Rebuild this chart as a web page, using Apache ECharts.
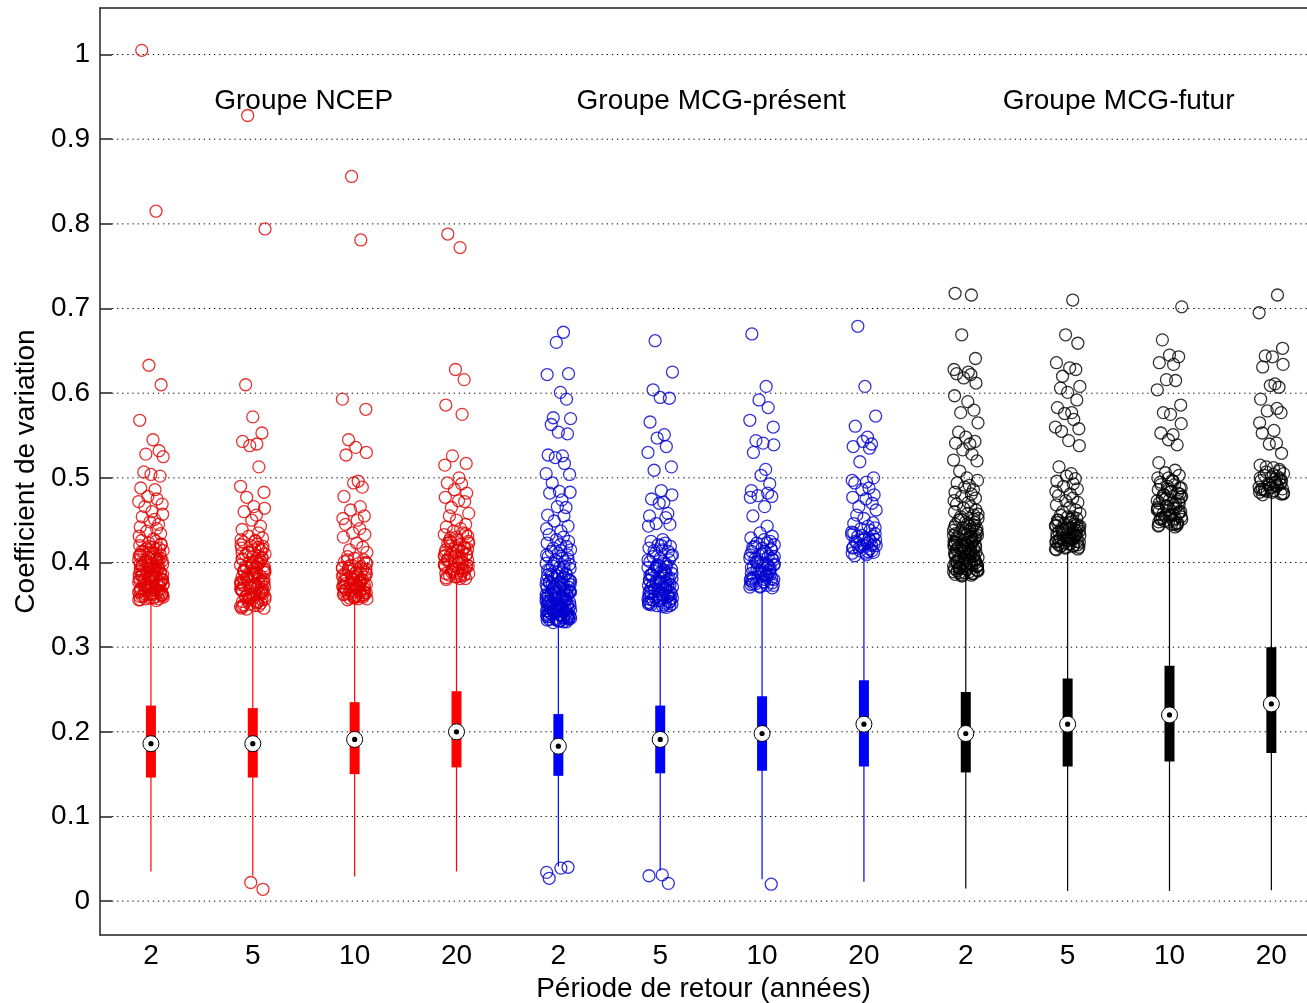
<!DOCTYPE html>
<html>
<head>
<meta charset="utf-8">
<script src="https://cdn.jsdelivr.net/npm/echarts@6/dist/echarts.min.js"></script>
<style>
  html, body { margin: 0; padding: 0; background: #fff; }
  #chart { width: 1307px; height: 1003px; }
</style>
</head>
<body>
<div id="chart"></div>
<script>
// return periods (x tick labels) and groups
const periods = ["2", "5", "10", "20"];
const groups = ["Groupe NCEP", "Groupe MCG-présent", "Groupe MCG-futur"];
const yTicks = [0, 0.1, 0.2, 0.3, 0.4, 0.5, 0.6, 0.7, 0.8, 0.9, 1];

// box statistics, one entry per box (NCEP 2..20, MCG-présent 2..20, MCG-futur 2..20)
const whiskerLow = [0.035, 0.030, 0.029, 0.035, 0.041, 0.036, 0.026, 0.023, 0.015, 0.012, 0.012, 0.013];
const q1 = [0.146, 0.146, 0.150, 0.158, 0.148, 0.151, 0.154, 0.159, 0.152, 0.159, 0.165, 0.175];
const medians = [0.186, 0.186, 0.191, 0.200, 0.183, 0.191, 0.198, 0.209, 0.198, 0.209, 0.220, 0.233];
const q3 = [0.231, 0.228, 0.235, 0.248, 0.221, 0.231, 0.242, 0.261, 0.247, 0.263, 0.278, 0.300];
const whiskerHigh = [0.352, 0.344, 0.356, 0.380, 0.328, 0.347, 0.370, 0.407, 0.384, 0.413, 0.441, 0.480];

// outliers per box
const outNcep2 = [1.005, 0.815, 0.633, 0.61, 0.568, 0.545, 0.532, 0.528, 0.525, 0.507, 0.504, 0.502, 0.488, 0.486, 0.478, 0.475, 0.472, 0.469, 0.466, 0.46, 0.457, 0.454, 0.451, 0.448, 0.445, 0.442, 0.44, 0.437, 0.434, 0.431,
  0.428, 0.426, 0.425, 0.423, 0.421, 0.42, 0.418, 0.417, 0.416, 0.414, 0.413, 0.412, 0.41, 0.409, 0.407, 0.406, 0.405, 0.403, 0.402, 0.401, 0.399, 0.398, 0.397, 0.395, 0.394, 0.393, 0.392, 0.39, 0.389, 0.388, 0.386, 0.385, 0.384, 0.383, 0.381, 0.38, 0.379, 0.378, 0.376, 0.375, 0.374, 0.373, 0.372, 0.37, 0.369, 0.368, 0.367, 0.366, 0.365, 0.364, 0.363, 0.362, 0.361, 0.36, 0.359, 0.358, 0.357, 0.356, 0.355, 0.371, 0.377, 0.382, 0.387, 0.396, 0.404, 0.411, 0.362, 0.366, 0.358, 0.373,
  0.357, 0.359, 0.361, 0.363, 0.365, 0.368, 0.37, 0.372, 0.375, 0.377, 0.379, 0.381, 0.384, 0.386, 0.388, 0.391, 0.393, 0.395, 0.398, 0.4, 0.402, 0.405, 0.408, 0.41, 0.413, 0.416, 0.419, 0.422, 0.36, 0.364, 0.367, 0.371, 0.374, 0.378, 0.383, 0.387, 0.39, 0.394, 0.397, 0.401, 0.356, 0.362, 0.369, 0.376, 0.38, 0.385, 0.389, 0.396, 0.403, 0.409];
const outNcep5 = [0.928, 0.794, 0.61, 0.572, 0.553, 0.543, 0.54, 0.538, 0.513, 0.49, 0.483, 0.477, 0.466, 0.464, 0.46, 0.456, 0.45, 0.443, 0.439, 0.435,
  0.431, 0.429, 0.427, 0.426, 0.424, 0.422, 0.42, 0.419, 0.417, 0.415, 0.414, 0.412, 0.41, 0.409, 0.407, 0.405, 0.404, 0.402, 0.4, 0.399, 0.397, 0.396, 0.394, 0.392, 0.391, 0.389, 0.388, 0.386, 0.384, 0.383, 0.381, 0.38, 0.378, 0.376, 0.375, 0.373, 0.372, 0.37, 0.368, 0.367, 0.365, 0.364, 0.362, 0.36, 0.359, 0.357, 0.356, 0.354, 0.352, 0.351, 0.349, 0.348, 0.346, 0.345, 0.363, 0.371, 0.379, 0.387, 0.395, 0.403, 0.411, 0.418, 0.358, 0.366, 0.374, 0.382, 0.39, 0.398, 0.022, 0.014,
  0.346, 0.349, 0.352, 0.355, 0.357, 0.36, 0.362, 0.365, 0.367, 0.37, 0.372, 0.375, 0.377, 0.38, 0.383, 0.385, 0.388, 0.391, 0.394, 0.397, 0.401, 0.404, 0.408, 0.412, 0.416, 0.421, 0.425, 0.35, 0.354, 0.359, 0.363, 0.368, 0.373, 0.378, 0.384, 0.389, 0.395, 0.4, 0.406, 0.348, 0.353, 0.358, 0.364, 0.369, 0.376, 0.381, 0.386, 0.393];
const outNcep10 = [0.856, 0.781, 0.593, 0.581, 0.545, 0.536, 0.53, 0.527, 0.496, 0.494, 0.489, 0.478, 0.466, 0.462, 0.455, 0.452, 0.45, 0.445, 0.44, 0.435, 0.433, 0.43, 0.423, 0.418, 0.415, 0.412,
  0.407, 0.405, 0.403, 0.401, 0.399, 0.397, 0.395, 0.393, 0.392, 0.39, 0.388, 0.386, 0.385, 0.383, 0.381, 0.38, 0.378, 0.376, 0.375, 0.373, 0.372, 0.37, 0.368, 0.367, 0.365, 0.364, 0.362, 0.361, 0.359, 0.358, 0.357, 0.356, 0.36, 0.366, 0.371, 0.377, 0.382, 0.387, 0.394, 0.4, 0.363, 0.369, 0.374, 0.379,
  0.357, 0.359, 0.361, 0.363, 0.365, 0.367, 0.369, 0.371, 0.373, 0.375, 0.378, 0.38, 0.383, 0.386, 0.389, 0.392, 0.396, 0.399, 0.403, 0.358, 0.362, 0.366, 0.37, 0.374, 0.379, 0.384, 0.388, 0.393, 0.36, 0.364, 0.368, 0.372, 0.376];
const outNcep20 = [0.788, 0.772, 0.628, 0.616, 0.586, 0.575, 0.526, 0.517, 0.515, 0.5, 0.494, 0.493, 0.486, 0.482, 0.477, 0.473, 0.472, 0.465, 0.458, 0.455, 0.45, 0.445, 0.442, 0.44, 0.437,
  0.435, 0.433, 0.431, 0.429, 0.427, 0.425, 0.423, 0.421, 0.419, 0.417, 0.415, 0.413, 0.411, 0.409, 0.407, 0.405, 0.403, 0.401, 0.399, 0.397, 0.395, 0.393, 0.391, 0.389, 0.387, 0.385, 0.383, 0.381, 0.38, 0.384, 0.392, 0.4, 0.408, 0.416, 0.424, 0.388, 0.396, 0.404,
  0.381, 0.383, 0.385, 0.387, 0.39, 0.392, 0.394, 0.397, 0.399, 0.402, 0.405, 0.407, 0.41, 0.412, 0.415, 0.418, 0.42, 0.423, 0.426, 0.43, 0.434, 0.382, 0.386, 0.389, 0.393, 0.398, 0.403, 0.409, 0.414];
const outPres2 = [0.040, 0.034, 0.039, 0.027,
  0.672, 0.66, 0.623, 0.622, 0.601, 0.593, 0.571, 0.57, 0.563, 0.554, 0.552, 0.527, 0.526, 0.524, 0.517, 0.505, 0.504, 0.494, 0.484, 0.483, 0.482, 0.474, 0.466, 0.465, 0.456, 0.455, 0.449, 0.443, 0.44, 0.437, 0.433, 0.43, 0.427, 0.425,
  0.423, 0.421, 0.419, 0.417, 0.415, 0.413, 0.411, 0.409, 0.407, 0.405, 0.403, 0.401, 0.399, 0.398, 0.396, 0.394, 0.393, 0.391, 0.389, 0.388, 0.386, 0.385, 0.383, 0.382, 0.38, 0.379, 0.377, 0.376, 0.374, 0.373, 0.371, 0.37, 0.369, 0.367, 0.366, 0.365, 0.363, 0.362, 0.361, 0.359, 0.358, 0.357, 0.355, 0.354, 0.353, 0.352, 0.35, 0.349, 0.348, 0.347, 0.345, 0.344, 0.343, 0.342, 0.341, 0.339, 0.338, 0.337, 0.336, 0.335, 0.334, 0.333, 0.332, 0.331, 0.33, 0.329, 0.334, 0.339, 0.344, 0.349, 0.354, 0.359, 0.364, 0.369, 0.374, 0.379, 0.384, 0.331, 0.336, 0.341, 0.346, 0.351, 0.356, 0.361, 0.366, 0.371, 0.337, 0.343, 0.348, 0.353,
  0.33, 0.332, 0.334, 0.336, 0.338, 0.34, 0.342, 0.344, 0.346, 0.348, 0.35, 0.352, 0.355, 0.357, 0.36, 0.362, 0.365, 0.368, 0.371, 0.374, 0.377, 0.38, 0.384, 0.387, 0.391, 0.395, 0.399, 0.404, 0.409, 0.414, 0.333, 0.337, 0.341, 0.345, 0.35, 0.356, 0.363, 0.37, 0.378, 0.386, 0.331, 0.335, 0.339, 0.343, 0.347, 0.353, 0.358, 0.366, 0.375];
const outPres5 = [0.030, 0.031, 0.021,
  0.662, 0.625, 0.604, 0.595, 0.594, 0.566, 0.551, 0.547, 0.537, 0.53, 0.513, 0.509, 0.485, 0.48, 0.475, 0.471, 0.47, 0.458, 0.455, 0.453, 0.446, 0.445, 0.443,
  0.427, 0.425, 0.423, 0.421, 0.419, 0.417, 0.415, 0.413, 0.411, 0.409, 0.407, 0.405, 0.403, 0.401, 0.399, 0.397, 0.395, 0.394, 0.392, 0.39, 0.389, 0.387, 0.385, 0.384, 0.382, 0.38, 0.379, 0.377, 0.376, 0.374, 0.373, 0.371, 0.37, 0.368, 0.367, 0.365, 0.364, 0.362, 0.361, 0.359, 0.358, 0.356, 0.355, 0.353, 0.352, 0.35, 0.349, 0.347, 0.357, 0.363, 0.369, 0.375, 0.381, 0.386, 0.391, 0.396, 0.36, 0.366, 0.372, 0.378, 0.354, 0.351,
  0.348, 0.35, 0.352, 0.355, 0.357, 0.36, 0.362, 0.365, 0.368, 0.371, 0.374, 0.377, 0.381, 0.385, 0.389, 0.393, 0.398, 0.403, 0.408, 0.414, 0.42, 0.351, 0.356, 0.361, 0.366, 0.372, 0.379, 0.387, 0.395, 0.349, 0.353, 0.358, 0.364, 0.37];
const outPres10 = [0.020,
  0.67, 0.608, 0.592, 0.583, 0.568, 0.56, 0.544, 0.541, 0.539, 0.53, 0.51, 0.503, 0.493, 0.485, 0.482, 0.479, 0.478, 0.477, 0.466, 0.455, 0.443, 0.435,
  0.431, 0.429, 0.427, 0.425, 0.423, 0.421, 0.419, 0.417, 0.415, 0.413, 0.411, 0.409, 0.407, 0.405, 0.403, 0.401, 0.399, 0.397, 0.395, 0.393, 0.391, 0.389, 0.387, 0.385, 0.383, 0.381, 0.379, 0.377, 0.375, 0.373, 0.371, 0.37, 0.374, 0.38, 0.386, 0.392, 0.398, 0.404, 0.41, 0.416, 0.378, 0.384, 0.39, 0.396,
  0.371, 0.373, 0.375, 0.377, 0.38, 0.382, 0.385, 0.388, 0.391, 0.394, 0.397, 0.401, 0.405, 0.409, 0.413, 0.418, 0.423, 0.372, 0.376, 0.381, 0.387, 0.393, 0.4, 0.407];
const outPres20 = [0.679, 0.608, 0.573, 0.561, 0.548, 0.543, 0.54, 0.537, 0.535, 0.519, 0.5, 0.497, 0.495, 0.494, 0.488, 0.486, 0.48, 0.477, 0.475, 0.47, 0.466, 0.462, 0.456, 0.452, 0.447, 0.446, 0.443, 0.44, 0.438, 0.436, 0.434, 0.431, 0.429, 0.427, 0.425, 0.423, 0.421, 0.42, 0.418, 0.416, 0.414, 0.412, 0.411, 0.409, 0.408, 0.428, 0.432, 0.422, 0.417,
  0.411, 0.414, 0.417, 0.42, 0.424, 0.427, 0.431, 0.435, 0.413, 0.419, 0.426, 0.433, 0.441];
const outFut2 = [0.718, 0.716, 0.669, 0.641, 0.628, 0.625, 0.623, 0.622, 0.618, 0.612, 0.597, 0.59, 0.58, 0.577, 0.565, 0.554, 0.548, 0.543, 0.541, 0.54, 0.533, 0.528, 0.521, 0.52, 0.508,
  0.5, 0.497, 0.494, 0.491, 0.489, 0.486, 0.483, 0.481, 0.478, 0.476, 0.473, 0.471, 0.469, 0.466, 0.464, 0.462, 0.46, 0.458, 0.456, 0.454, 0.452, 0.45, 0.448, 0.447, 0.445, 0.443, 0.441, 0.44, 0.438, 0.436, 0.435, 0.433, 0.432, 0.43, 0.429, 0.427, 0.426, 0.424, 0.423, 0.421, 0.42, 0.419, 0.417, 0.416, 0.415, 0.413, 0.412, 0.411, 0.409, 0.408, 0.407, 0.406, 0.404, 0.403, 0.402, 0.401, 0.399, 0.398, 0.397, 0.396, 0.395, 0.394, 0.392, 0.391, 0.39, 0.389, 0.388, 0.387, 0.386, 0.385, 0.384, 0.43, 0.425, 0.42, 0.414, 0.41, 0.405, 0.4, 0.393, 0.437, 0.444, 0.451, 0.457, 0.418, 0.422, 0.428, 0.434, 0.439,
  0.385, 0.387, 0.389, 0.391, 0.393, 0.395, 0.397, 0.4, 0.402, 0.404, 0.407, 0.409, 0.412, 0.415, 0.418, 0.421, 0.424, 0.427, 0.431, 0.434, 0.438, 0.442, 0.446, 0.451, 0.386, 0.39, 0.394, 0.398, 0.403, 0.408, 0.413, 0.419, 0.425, 0.432, 0.44, 0.388, 0.392, 0.396, 0.401, 0.406, 0.411, 0.417, 0.423, 0.429];
const outFut5 = [0.71, 0.669, 0.659, 0.636, 0.63, 0.628, 0.62, 0.608, 0.606, 0.601, 0.592, 0.583, 0.577, 0.576, 0.569, 0.56, 0.558, 0.555, 0.544, 0.538, 0.513,
  0.505, 0.502, 0.499, 0.496, 0.493, 0.49, 0.487, 0.484, 0.481, 0.479, 0.476, 0.473, 0.471, 0.468, 0.465, 0.462, 0.46, 0.458, 0.456, 0.454, 0.452, 0.45, 0.448, 0.446, 0.445, 0.443, 0.442, 0.44, 0.439, 0.437, 0.436, 0.434, 0.433, 0.431, 0.43, 0.428, 0.427, 0.425, 0.424, 0.422, 0.421, 0.419, 0.418, 0.416, 0.415, 0.441, 0.438, 0.435, 0.432, 0.429, 0.426, 0.444, 0.447, 0.451, 0.423, 0.42,
  0.416, 0.418, 0.42, 0.422, 0.424, 0.426, 0.428, 0.43, 0.432, 0.434, 0.436, 0.439, 0.441, 0.444, 0.447, 0.45, 0.454, 0.417, 0.421, 0.425, 0.429, 0.433, 0.438, 0.443, 0.419, 0.427, 0.435];
const outFut10 = [0.702, 0.663, 0.645, 0.643, 0.636, 0.634, 0.616, 0.615, 0.604, 0.586, 0.577, 0.575, 0.564, 0.553, 0.551, 0.545, 0.539, 0.518,
  0.509, 0.506, 0.503, 0.5, 0.497, 0.495, 0.492, 0.49, 0.488, 0.486, 0.484, 0.482, 0.48, 0.478, 0.476, 0.474, 0.472, 0.47, 0.468, 0.466, 0.464, 0.462, 0.46, 0.458, 0.456, 0.454, 0.452, 0.45, 0.448, 0.446, 0.444, 0.442, 0.475, 0.469, 0.463, 0.457, 0.451, 0.445, 0.487, 0.481,
  0.443, 0.445, 0.447, 0.449, 0.451, 0.453, 0.455, 0.458, 0.461, 0.464, 0.467, 0.47, 0.473, 0.477, 0.48, 0.484, 0.488, 0.492, 0.496, 0.5, 0.444, 0.448, 0.452, 0.456, 0.46, 0.465];
const outFut20 = [0.716, 0.695, 0.653, 0.644, 0.643, 0.634, 0.631, 0.611, 0.609, 0.607, 0.593, 0.582, 0.579, 0.577, 0.565, 0.556, 0.553, 0.541, 0.54, 0.529,
  0.515, 0.512, 0.51, 0.507, 0.505, 0.503, 0.501, 0.499, 0.497, 0.495, 0.493, 0.491, 0.489, 0.487, 0.485, 0.483, 0.481, 0.48, 0.494, 0.488, 0.498, 0.486, 0.502, 0.484,
  0.481, 0.483, 0.485, 0.487, 0.49, 0.492, 0.496, 0.5, 0.504, 0.508, 0.513, 0.482, 0.486, 0.489, 0.493];

const outliers = [outNcep2, outNcep5, outNcep10, outNcep20, outPres2, outPres5, outPres10, outPres20, outFut2, outFut5, outFut10, outFut20];

// styling
const groupColors = ["#ff0000", "#0000ff", "#000000"];
const markerColors = ["#e00000", "#0000d0", "#000000"];
const jitter = [-0.09, 0.05, -0.02, 0.1, -0.11, 0.02, 0.08, -0.05, 0.12, -0.07, 0.0, 0.09, -0.1, 0.04, -0.03, 0.06, -0.12, 0.11, -0.06, 0.01, 0.115, -0.085, 0.035, -0.01, 0.075, -0.105, 0.055, -0.04, 0.095, -0.115, 0.025];
const X_MIN = 0.5, X_MAX = 12.35;
const FONT = "'Liberation Sans', Arial, sans-serif";
const FS = 28;

const chart = echarts.init(document.getElementById("chart"));

const boxData = medians.map((m, i) => [i + 1, whiskerLow[i], q1[i], m, q3[i], whiskerHigh[i]]);

const scatterSeries = groups.map((g, gi) => {
  const pts = [];
  for (let k = 0; k < 4; k++) {
    const ci = gi * 4 + k;
    outliers[ci].forEach((v, j) => {
      pts.push([ci + 1 + jitter[(j + ci * 7) % jitter.length], v]);
    });
  }
  return {
    name: g,
    type: "scatter",
    data: pts,
    symbol: "circle",
    symbolSize: 12,
    silent: true,
    z: 4,
    itemStyle: { color: "rgba(0,0,0,0)", borderColor: markerColors[gi], borderWidth: 1.3 }
  };
});

const option = {
  animation: false,
  backgroundColor: "#fff",
  grid: { left: 100, right: 0, top: 8, bottom: 68, outerBoundsMode: "none", containLabel: false },
  xAxis: [
    {
      type: "value",
      min: X_MIN,
      max: X_MAX,
      position: "bottom",
      name: "Période de retour (années)",
      nameLocation: "middle",
      nameGap: 40,
      nameTextStyle: { fontFamily: FONT, fontSize: FS, color: "#000" },
      axisLine: { show: true, onZero: false, lineStyle: { color: "#222", width: 1.5 } },
      axisTick: { show: false },
      splitLine: { show: false },
      axisLabel: {
        customValues: [1, 2, 3, 4, 5, 6, 7, 8, 9, 10, 11, 12],
        formatter: (v) => periods[(Math.round(v) - 1) % 4],
        fontFamily: FONT, fontSize: FS, color: "#000", margin: 7
      }
    },
    {
      type: "value",
      min: X_MIN,
      max: X_MAX,
      position: "top",
      axisLine: { show: true, onZero: false, lineStyle: { color: "#222", width: 1.5 } },
      axisTick: { show: false },
      axisLabel: { show: false },
      splitLine: { show: false }
    }
  ],
  yAxis: {
    type: "value",
    min: -0.04,
    max: 1.055,
    name: "Coefficient de variation",
    nameLocation: "middle",
    nameGap: 60,
    nameTextStyle: { fontFamily: FONT, fontSize: FS, color: "#000" },
    axisLine: { show: true, onZero: false, lineStyle: { color: "#222", width: 1.5 } },
    axisTick: { show: true, inside: true, length: 12, customValues: yTicks, lineStyle: { color: "#222", width: 1.5 } },
    axisLabel: { customValues: yTicks, fontFamily: FONT, fontSize: FS, color: "#000", margin: 10 },
    splitLine: { show: false }
  },
  series: [
    {
      name: "grid",
      type: "custom",
      silent: true,
      z: 1,
      data: yTicks.map((v) => [X_MIN, v]),
      renderItem: (params, api) => {
        const a = api.coord([X_MIN, api.value(1)]);
        const b = api.coord([X_MAX, api.value(1)]);
        return {
          type: "line",
          shape: { x1: a[0] + 12, y1: a[1], x2: b[0], y2: b[1] },
          style: { stroke: "#000", lineWidth: 1, lineDash: [1.3, 3.8] }
        };
      }
    },
    {
      name: "groupes",
      type: "custom",
      silent: true,
      z: 3,
      data: groups.map((g, gi) => [gi * 4 + 2.5, 0.945]),
      renderItem: (params, api) => {
        const p = api.coord([api.value(0), api.value(1)]);
        return {
          type: "text",
          x: p[0],
          y: p[1],
          style: {
            text: groups[params.dataIndex],
            fill: "#000",
            font: FS + "px " + FONT,
            align: "center",
            verticalAlign: "middle",
            textAlign: "center",
            textVerticalAlign: "middle"
          }
        };
      }
    },
    {
      name: "boites",
      type: "custom",
      silent: true,
      z: 5,
      data: boxData,
      renderItem: (params, api) => {
        const x = api.value(0);
        const lo = api.coord([x, api.value(1)]);
        const b = api.coord([x, api.value(2)]);
        const m = api.coord([x, api.value(3)]);
        const t = api.coord([x, api.value(4)]);
        const hi = api.coord([x, api.value(5)]);
        const color = groupColors[Math.floor(params.dataIndex / 4)];
        return {
          type: "group",
          children: [
            { type: "line", shape: { x1: lo[0], y1: lo[1], x2: hi[0], y2: hi[1] }, style: { stroke: color, lineWidth: 1.2 } },
            { type: "rect", shape: { x: b[0] - 5, y: t[1], width: 10, height: b[1] - t[1] }, style: { fill: color } },
            { type: "circle", shape: { cx: m[0], cy: m[1], r: 8 }, style: { fill: "#fff", stroke: "#000", lineWidth: 1 } },
            { type: "circle", shape: { cx: m[0], cy: m[1], r: 2.6 }, style: { fill: "#000" } }
          ]
        };
      }
    },
    ...scatterSeries
  ]
};

chart.setOption(option);
</script>
</body>
</html>
